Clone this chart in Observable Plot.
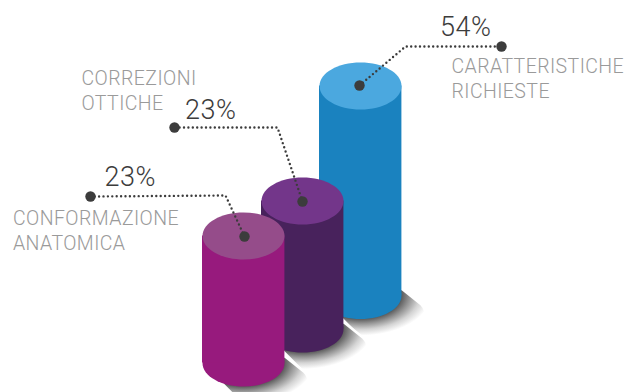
<!DOCTYPE html>
<html>
<head>
<meta charset="utf-8">
<script src="https://cdn.jsdelivr.net/npm/d3@7"></script>
<script src="https://cdn.jsdelivr.net/npm/@observablehq/plot@0.6"></script>
<style>
html,body{margin:0;padding:0;background:#fff}
svg{display:block}
.cat text{letter-spacing:.42px}
.pct text{letter-spacing:.5px}
</style>
</head>
<body>
<div id="chart"></div>
<script>
// Painter's order: back column first
const categories = ["CARATTERISTICHE\nRICHIESTE", "CORREZIONI\nOTTICHE", "CONFORMAZIONE\nANATOMICA"];
const percents = ["54%", "23%", "23%"];
const columnX = [360, 302, 243];
const columnTop = [85.5, 200.5, 235.5];
const columnBase = [295, 328.5, 362.5];
const bodyColors = ["#1a82bf", "#48225c", "#971a7d"];
const capColors = ["#4ba8df", "#73368a", "#954c8a"];
const leaderDotX = [359, 302, 244];
const leaderDotY = [85, 201, 236];
const leaderCornerX = [405, 277, 225];
const leaderCornerY = [46, 127, 195];
const leaderEndX = [501, 174, 90];
const leaderEndY = [46, 127, 196];
const percentX = [439.5, 184.5, 104];
const percentY = [35, 118, 185];
const labelX = [451, 81, 12.5];
const labelY = [97, 109, 249];

const radiusX = 41, squash = 23.5 / 41;

const ellipseSymbol = {
  draw(c, size) {
    const r = Math.sqrt(size / Math.PI), ry = r * squash, k = 0.5523;
    c.moveTo(r, 0);
    c.bezierCurveTo(r, ry * k, r * k, ry, 0, ry);
    c.bezierCurveTo(-r * k, ry, -r, ry * k, -r, 0);
    c.bezierCurveTo(-r, -ry * k, -r * k, -ry, 0, -ry);
    c.bezierCurveTo(r * k, -ry, r, -ry * k, r, 0);
    c.closePath();
  }
};
const shadowSymbol = {
  draw(c, size) {
    const u = Math.sqrt(size / Math.PI) / 41;
    c.moveTo(41 * u, -7 * u);
    c.lineTo(61 * u, 9 * u);
    c.bezierCurveTo(69 * u, 17 * u, 64 * u, 29 * u, 50 * u, 36 * u);
    c.bezierCurveTo(34 * u, 44 * u, 14 * u, 45 * u, 0, 42 * u);
    c.lineTo(-22 * u, 20 * u);
    c.closePath();
  }
};

const defs = () => {
  const d = d3.create("svg:defs");
  const g = d.append("radialGradient")
    .attr("id", "shadowFade")
    .attr("gradientUnits", "userSpaceOnUse")
    .attr("cx", 0).attr("cy", 0).attr("r", 72)
    .attr("gradientTransform", `scale(1 ${squash})`);
  g.append("stop").attr("offset", "0.56").attr("stop-color", "#585858");
  g.append("stop").attr("offset", "0.68").attr("stop-color", "#949494");
  g.append("stop").attr("offset", "0.82").attr("stop-color", "#d4d4d4");
  g.append("stop").attr("offset", "0.97").attr("stop-color", "#ffffff");
  return d.node();
};

const columnMarks = categories.flatMap((_, i) => {
  const row = [{x: columnX[i], top: columnTop[i], base: columnBase[i]}];
  return [
    Plot.dot(row, {x: "x", y: "base", r: radiusX, symbol: shadowSymbol, fill: "url(#shadowFade)", stroke: "#fff", strokeWidth: 2.5}),
    Plot.dot(row, {x: "x", y: "base", r: radiusX, symbol: ellipseSymbol, fill: bodyColors[i]}),
    Plot.rect(row, {x1: d => d.x - radiusX, x2: d => d.x + radiusX + 0.4, y1: "top", y2: "base", fill: bodyColors[i]}),
    Plot.dot(row, {x: "x", y: "top", r: radiusX, symbol: ellipseSymbol, fill: capColors[i]})
  ];
});

const leaderMarks = categories.flatMap((_, i) => {
  const path = [
    {x: leaderDotX[i], y: leaderDotY[i]},
    {x: leaderCornerX[i], y: leaderCornerY[i]},
    {x: leaderEndX[i], y: leaderEndY[i]}
  ];
  return [
    Plot.line(path, {x: "x", y: "y", stroke: "#3c3c3c", strokeWidth: 2.4, strokeLinecap: "round", strokeDasharray: "0 4.4"}),
    Plot.dot([path[0], path[2]], {x: "x", y: "y", r: 5.2, fill: "#3c3c3c"})
  ];
});

const labels = categories.map((c, i) => ({c, p: percents[i], lx: labelX[i], ly: labelY[i], px: percentX[i], py: percentY[i]}));

const chart = Plot.plot({
  width: 624, height: 392,
  margin: 0,
  style: {fontFamily: "Roboto, sans-serif", background: "#fff", overflow: "hidden"},
  x: {type: "linear", domain: [0, 624], range: [0, 624], axis: null},
  y: {type: "linear", domain: [0, 392], range: [0, 392], axis: null},
  marks: [
    defs,
    ...columnMarks,
    ...leaderMarks,
    Plot.text(labels, {x: "lx", y: "ly", text: "c", textAnchor: "start", lineAnchor: "bottom", fontSize: 19.5, lineHeight: 1.26, fontWeight: 300, fill: "#9a9a9a", className: "cat"}),
    Plot.text(labels, {x: "px", y: "py", text: "p", textAnchor: "start", lineAnchor: "bottom", fontSize: 27, fontWeight: 300, fill: "#3c3c3c", className: "pct"})
  ]
});
document.getElementById("chart").append(chart);
</script>
</body>
</html>
